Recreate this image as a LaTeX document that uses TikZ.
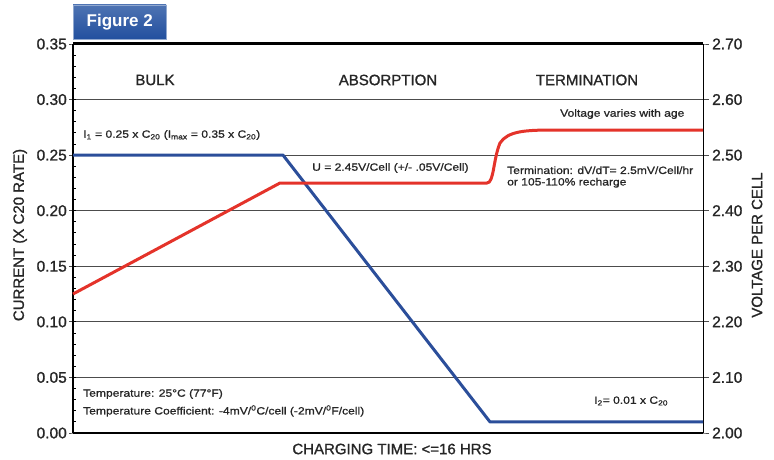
\documentclass[tikz,border=0pt]{standalone}
\usepackage{fontspec}
\setmainfont{Liberation Sans}
\newfontfamily\medfont{Liberation Sans}[FakeBold=1.2]
\newfontfamily\notefont{Liberation Sans}[FakeStretch=1.15,FakeBold=1]
\usetikzlibrary{positioning}
\definecolor{chartblue}{HTML}{2B4E9A}
\definecolor{chartred}{HTML}{E4332A}
\definecolor{figblue}{HTML}{22509F}

\tikzset{
  ticklab/.style={font=\medfont\fontsize{15.5}{17}\selectfont, inner sep=0pt, text=black!85},
  phase/.style={font=\medfont\fontsize{15}{17}\selectfont, inner sep=0pt, text=black!85},
  note/.style={font=\notefont\fontsize{10.5}{11.5}\selectfont, inner sep=0pt, anchor=west, align=left, text=black!85},
  gridln/.style={draw=black!70, line width=0.9pt},
  curline/.style={draw=chartblue, line width=3pt, line join=round},
  volline/.style={draw=chartred, line width=3pt, line join=round},
}

\begin{document}
\begin{tikzpicture}[x=1pt,y=-1pt]
  \useasboundingbox (0,0) rectangle (774,460);

  % Frame

  \coordinate (tl) at (73,44) ;
  \coordinate (tr) at (703,44) ;
  \coordinate (bl) at (73,433) ;
  \coordinate (br) at (703,433) ;

  \foreach \cl/\vl [count=\i from 0] in {0.00/2.00,0.05/2.10,0.10/2.20,0.15/2.30,0.20/2.40,0.25/2.50,0.30/2.60,0.35/2.70} {
    \pgfmathsetmacro\yy{433-\i*55.571}
    \coordinate (gl\i) at (73,\yy) ;
    \coordinate (gr\i) at (703,\yy) ;
    \draw[gridln] (gl\i) ++(-4,0) -- (gl\i) -- (gr\i) -- ++(6,0) ; %
    \node[ticklab, left=6pt of gl\i]  (cl\i) {\cl} ; %
    \node[ticklab, right=9pt of gr\i] (vl\i) {\vl} ; %
  }
  \foreach \k in {1,...,34}
    \draw[black, line width=0.9pt] (73,433-\k*11.114) -- ++(3,0) ;

  \draw[line width=3pt] (tl) -- (tr) ; %
  \draw[line width=2.5pt] (bl) -- (tl) ; %
  \draw[line width=1pt] (tr) -- (br) ; %
  \draw[line width=1.4pt] (bl) -- (br) ; %

  % Curves

  \coordinate (c0) at (73,155.1) ;
  \coordinate (c1) at (283,155.1) ;
  \coordinate (c2) at (490,421.9) ;
  \coordinate (c3) at (703,421.9) ;
  \draw[curline] (c0) -- (c1) -- (c2) -- (c3) ; %

  \coordinate (v0) at (73,294) ;
  \coordinate (v1) at (280,183) ;
  \coordinate (v2) at (487,183) ;
  \coordinate (v3) at (500,143) ;
  \coordinate (v4) at (555,130) ;
  \coordinate (v5) at (703,130) ;
  \draw[volline] (v0) -- (v1) -- (v2)
    .. controls (494,183) and (493,160) .. (v3)
    .. controls (508,131) and (525,130) .. (v4) -- (v5) ; %

  % Nodes

  \node[fill=figblue, top color=figblue!80!white, bottom color=figblue, draw=figblue!50!white,
        text=white, font=\bfseries\fontsize{17}{19}\selectfont,
        minimum width=93pt, minimum height=34pt, anchor=south west] (fig) at (73,39) {Figure 2} ;

  \node[phase] (bulk) at (155,80) {BULK} ;
  \node[phase] (absorb) at (388,80) {ABSORPTION} ;
  \node[phase] (term) at (587,80) {TERMINATION} ;

  \node[phase, rotate=90] (ytitle) at (20,235) {CURRENT (X C20 RATE)} ;
  \node[phase, rotate=90] (vtitle) at (757,245) {VOLTAGE PER CELL} ;
  \node[phase] (xtitle) at (392,449) {CHARGING TIME: <=16 HRS} ;

  % More nodes

  \node[note] (i1) at (83,135) {I\textsubscript{1} = 0.25 x C\textsubscript{20} (I\textsubscript{max} = 0.35 x C\textsubscript{20})} ;
  \node[note] (unote) at (312,168) {U = 2.45V/Cell (+/- .05V/Cell)} ;
  \node[note] (tnote) at (507,177) {Termination: dV/dT= 2.5mV/Cell/hr\\or 105-110\% recharge} ;
  \node[note] (age) at (560,114) {Voltage varies with age} ;
  \node[note] (temp) at (83,394) {Temperature: 25°C (77°F)} ;
  \node[note] (coef) at (83,411) {Temperature Coefficient: -4mV/\textsuperscript{0}C/cell (-2mV/\textsuperscript{0}F/cell)} ;
  \node[note] (i2) at (594,401) {I\textsubscript{2}= 0.01 x C\textsubscript{20}} ;

\end{tikzpicture}
\end{document}
